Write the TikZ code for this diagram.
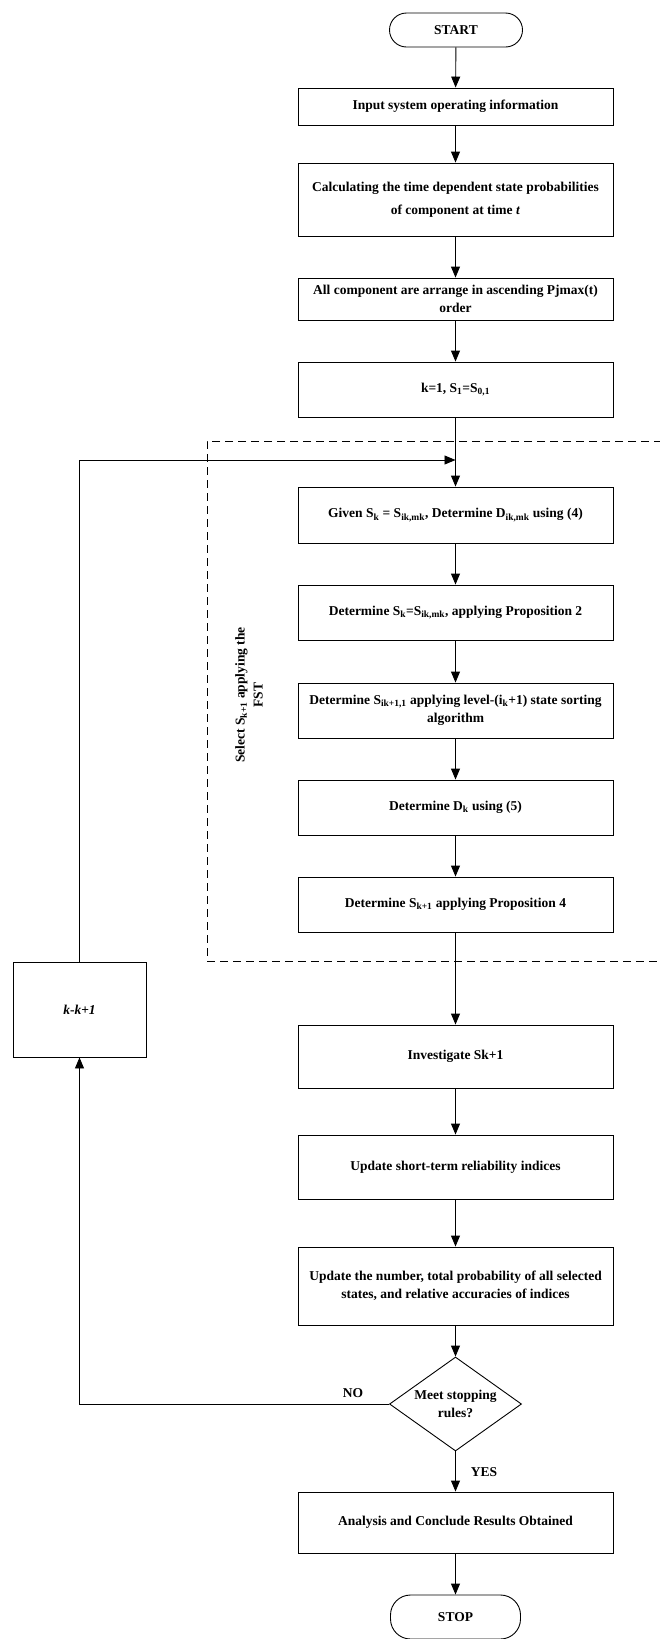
\documentclass[tikz,border=0pt]{standalone}
\usepackage{fontspec}
\setmainfont{Liberation Serif}
\usetikzlibrary{shapes.geometric,arrows.meta}
\begin{document}
\begin{tikzpicture}[x=1pt,y=-1pt,
  txt/.style={font=\bfseries\fontsize{13.5}{18}\selectfont},
  box/.style={txt, draw, line width=0.9pt, minimum width=315pt, inner sep=2pt, align=center},
  term/.style={txt, draw, line width=0.9pt, rounded corners=17pt, minimum width=133pt, minimum height=34pt, inner sep=2pt},
  decision/.style={txt, draw, line width=0.9pt, diamond, aspect=1.4, inner sep=0pt, minimum width=132pt, minimum height=94pt, align=center},
  arr/.style={line width=0.9pt, -{Triangle[length=11pt,width=9pt]}},
  frame/.style={line width=0.9pt, dash pattern=on 8pt off 5pt},
  lbl/.style={txt, inner sep=0pt}
]
\useasboundingbox (0,0) rectangle (660,1639);

\node[term] (start) at (456,30) {START};
\node[box, minimum height=37pt] (input) at (455.5,106.5) {Input system operating information};
\node[box, minimum height=73pt] (calc) at (455.5,199.5) {Calculating the time dependent state probabilities\\[5pt] of component at time \textit{t}};
\node[box, minimum height=42pt] (order) at (455.5,299) {All component are arrange in ascending Pjmax(t)\\order};
\node[box, minimum height=55pt] (kone) at (455.5,389.5) {k=1, S\textsubscript{1}=S\textsubscript{0,1}};
\node[box, minimum height=56pt] (given) at (455.5,515) {Given S\textsubscript{k} = S\textsubscript{ik,mk}, Determine D\textsubscript{ik,mk} using (4)};
\node[box, minimum height=55pt] (detsk) at (455.5,612.5) {Determine S\textsubscript{k}=S\textsubscript{ik,mk}, applying Proposition 2};
\node[box, minimum height=55pt] (detsort) at (455.5,710.5) {Determine S\textsubscript{ik+1,1} applying level-(i\textsubscript{k}+1) state sorting\\algorithm};
\node[box, minimum height=55pt] (detdk) at (455.5,807.5) {Determine D\textsubscript{k} using (5)};
\node[box, minimum height=55pt] (detnext) at (455.5,904.5) {Determine S\textsubscript{k+1} applying Proposition 4};
\node[box, minimum height=63pt] (invest) at (455.5,1056.5) {Investigate Sk+1};
\node[box, minimum height=64pt] (updone) at (455.5,1167) {Update short-term reliability indices};
\node[box, minimum height=78pt] (updtwo) at (455.5,1286) {Update the number, total probability of all selected\\states, and relative accuracies of indices};
\node[decision] (dia) at (455.5,1404) {Meet stopping\\rules?};
\node[box, minimum height=61pt] (analysis) at (455.5,1522.5) {Analysis and Conclude Results Obtained};
\node[term, minimum height=44pt, minimum width=130pt, rounded corners=20pt] (stop) at (455.5,1617) {STOP};

\node[box, minimum width=133pt, minimum height=95pt] (kbox) at (79.5,1009.5) {\textit{k}-\textit{k}+\textit{1}};

\node[txt, rotate=90, align=center, inner sep=0pt] (sel) at (249,695) {Select S\textsubscript{k+1} applying the\\FST};

\draw[frame] (662,441) -- (207,441) -- (207,961) -- (662,961);

\coordinate (join) at (455.5,460);

\draw[arr] (start) -- (input);
\draw[arr] (input) -- (calc);
\draw[arr] (calc) -- (order);
\draw[arr] (order) -- (kone);
\draw[arr] (kone) -- (given);
\draw[arr] (given) -- (detsk);
\draw[arr] (detsk) -- (detsort);
\draw[arr] (detsort) -- (detdk);
\draw[arr] (detdk) -- (detnext);
\draw[arr] (detnext) -- (invest);
\draw[arr] (invest) -- (updone);
\draw[arr] (updone) -- (updtwo);
\draw[arr] (updtwo) -- (dia);
\draw[arr] (dia) -- (analysis);
\draw[arr] (analysis) -- (stop);
\draw[arr] (dia.west) -| (kbox.south);
\draw[arr] (kbox.north) |- (join);

\node[lbl] (no) at (353,1393) {NO};
\node[lbl] (yes) at (484,1472) {YES};
\end{tikzpicture}
\end{document}
